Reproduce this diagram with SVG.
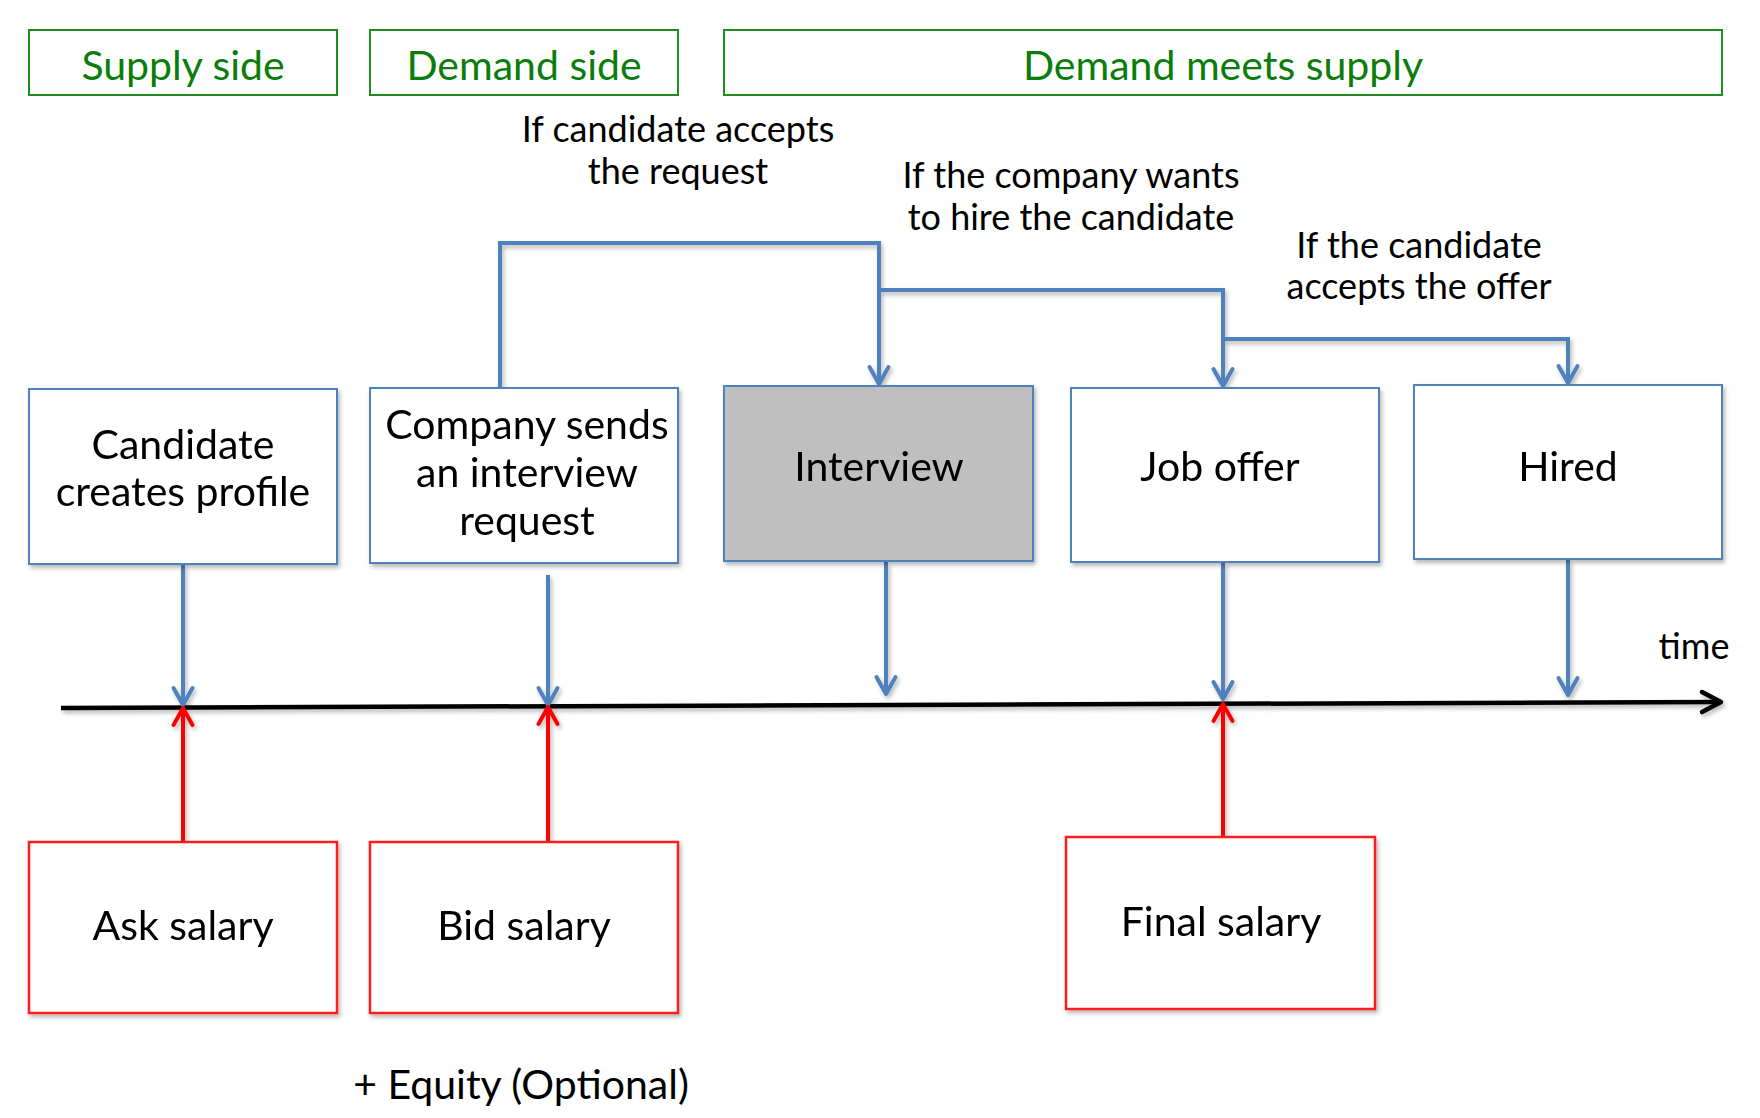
<svg xmlns="http://www.w3.org/2000/svg" width="1760" height="1118" viewBox="0 0 1760 1118">
  <style>
    text { font-family: Lato, "Open Sans", "Liberation Sans", sans-serif; fill: #000; text-anchor: middle; }
    .hdr { fill: none; stroke: #1E8C1E; stroke-width: 2; }
    .hdrt { fill: #0A7D0A; font-size: 41px; }
    .bnode { fill: #FFFFFF; stroke: #4F81BD; stroke-width: 2; }
    .gnode { fill: #BFBFBF; stroke: #4F81BD; stroke-width: 2; }
    .rnode { fill: #FFFFFF; stroke: #FF1A1A; stroke-width: 2.5; }
    .nt { font-size: 41px; }
    .lt { font-size: 36px; }
    .blue { fill: none; stroke: #4F81BD; stroke-width: 4; }
    .red { fill: none; stroke: #FF0000; stroke-width: 4; }
    .axis { fill: none; stroke: #000; stroke-width: 4.5; }
  </style>
  <defs>
    <filter id="sh" filterUnits="userSpaceOnUse" x="0" y="0" width="1760" height="1118">
      <feDropShadow dx="2" dy="3" stdDeviation="2" flood-color="#000" flood-opacity="0.28"/>
    </filter>
    <marker id="ab" markerUnits="userSpaceOnUse" orient="auto" refX="0" refY="0" markerWidth="40" markerHeight="40" overflow="visible">
      <path d="M-17,-9.5 L0,0 L-17,9.5" fill="none" stroke="#4F81BD" stroke-width="4" stroke-linecap="round" stroke-linejoin="round"/>
    </marker>
    <marker id="ar" markerUnits="userSpaceOnUse" orient="auto" refX="0" refY="0" markerWidth="40" markerHeight="40" overflow="visible">
      <path d="M-17,-9.5 L0,0 L-17,9.5" fill="none" stroke="#FF0000" stroke-width="4" stroke-linecap="round" stroke-linejoin="round"/>
    </marker>
    <marker id="ak" markerUnits="userSpaceOnUse" orient="auto" refX="0" refY="0" markerWidth="40" markerHeight="40" overflow="visible">
      <path d="M-19,-10 L0,0 L-19,10" fill="none" stroke="#000" stroke-width="4.5" stroke-linecap="round" stroke-linejoin="round"/>
    </marker>
  </defs>
  <rect width="1760" height="1118" fill="#FFFFFF"/>

  <g id="header-supply">
    <rect class="hdr" x="29" y="30" width="308" height="65"/>
    <text class="hdrt" x="183" y="80">Supply side</text>
  </g>
  <g id="header-demand">
    <rect class="hdr" x="370" y="30" width="308" height="65"/>
    <text class="hdrt" x="524" y="80">Demand side</text>
  </g>
  <g id="header-meets">
    <rect class="hdr" x="724" y="30" width="998" height="65"/>
    <text class="hdrt" x="1223" y="80">Demand meets supply</text>
  </g>

  <g id="connectors" filter="url(#sh)">
    <line class="axis" x1="61" y1="708" x2="1721" y2="702" marker-end="url(#ak)"/>
    <polyline class="blue" points="500,388 500,243 879,243 879,384" marker-end="url(#ab)"/>
    <polyline class="blue" points="879,290 1223,290 1223,386" marker-end="url(#ab)"/>
    <polyline class="blue" points="1223,339 1568,339 1568,383" marker-end="url(#ab)"/>
    <line class="blue" x1="183" y1="565" x2="183" y2="705" marker-end="url(#ab)"/>
    <line class="blue" x1="548" y1="575" x2="548" y2="705" marker-end="url(#ab)"/>
    <line class="blue" x1="886" y1="562" x2="886" y2="694" marker-end="url(#ab)"/>
    <line class="blue" x1="1223" y1="563" x2="1223" y2="699" marker-end="url(#ab)"/>
    <line class="blue" x1="1568" y1="560" x2="1568" y2="695" marker-end="url(#ab)"/>
    <line class="red" x1="183" y1="842" x2="183" y2="708" marker-end="url(#ar)"/>
    <line class="red" x1="548" y1="842" x2="548" y2="707" marker-end="url(#ar)"/>
    <line class="red" x1="1223" y1="837" x2="1223" y2="704" marker-end="url(#ar)"/>
  </g>

  <g id="label-accepts-request">
    <text class="lt" x="678" y="142">If candidate accepts</text>
    <text class="lt" x="678" y="184">the request</text>
  </g>
  <g id="label-wants-hire">
    <text class="lt" x="1071" y="188">If the company wants</text>
    <text class="lt" x="1071" y="230">to hire the candidate</text>
  </g>
  <g id="label-accepts-offer">
    <text class="lt" x="1419" y="258">If the candidate</text>
    <text class="lt" x="1419" y="299">accepts the offer</text>
  </g>
  <g id="label-time">
    <text class="lt" x="1694" y="659">time</text>
  </g>

  <g id="node-candidate" filter="url(#sh)">
    <rect class="bnode" x="29" y="389" width="308" height="175"/>
    <text class="nt" x="183" y="459">Candidate</text>
    <text class="nt" x="183" y="506">creates profile</text>
  </g>
  <g id="node-company" filter="url(#sh)">
    <rect class="bnode" x="370" y="388" width="308" height="175"/>
    <text class="nt" x="527" y="439">Company sends</text>
    <text class="nt" x="527" y="487">an interview</text>
    <text class="nt" x="527" y="535">request</text>
  </g>
  <g id="node-interview" filter="url(#sh)">
    <rect class="gnode" x="724" y="386" width="309" height="175"/>
    <text class="nt" x="879" y="481">Interview</text>
  </g>
  <g id="node-joboffer" filter="url(#sh)">
    <rect class="bnode" x="1071" y="388" width="308" height="174"/>
    <text class="nt" x="1220" y="481">Job offer</text>
  </g>
  <g id="node-hired" filter="url(#sh)">
    <rect class="bnode" x="1414" y="385" width="308" height="174"/>
    <text class="nt" x="1568" y="481">Hired</text>
  </g>

  <g id="node-ask" filter="url(#sh)">
    <rect class="rnode" x="29" y="842" width="308" height="171"/>
    <text class="nt" x="183" y="940">Ask salary</text>
  </g>
  <g id="node-bid" filter="url(#sh)">
    <rect class="rnode" x="370" y="842" width="308" height="171"/>
    <text class="nt" x="524" y="940">Bid salary</text>
  </g>
  <g id="node-final" filter="url(#sh)">
    <rect class="rnode" x="1066" y="837" width="309" height="172"/>
    <text class="nt" x="1221" y="936">Final salary</text>
  </g>

  <g id="label-equity">
    <text class="nt" x="521" y="1099">+ Equity (Optional)</text>
  </g>
</svg>
